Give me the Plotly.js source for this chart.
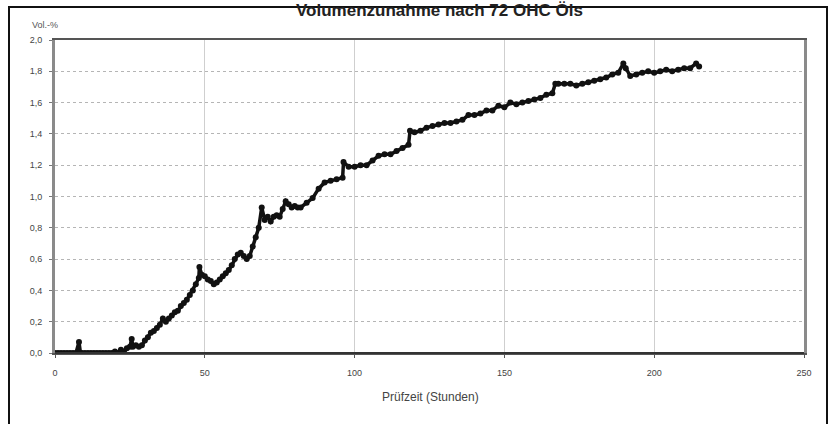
<!DOCTYPE html>
<html>
<head>
<meta charset="utf-8">
<script src="https://cdn.plot.ly/plotly-3.0.1.min.js"></script>
<style>html,body{margin:0;padding:0;background:#fff;}#chart{width:829px;height:424px;}</style>
</head>
<body>
<div id="chart"></div>
<script>
// Prüfzeit (Stunden)
const hours = [0,1,2,3,4,5,6,7,8,8.5,9,10,11,12,13,14,15,16,17,18,19,20,21,22,23,24,25,25.6,26,27,28,29,30,31,32,33,34,35,36,37,38,39,40,41,42,43,44,45,46,47,48,48.2,49,50,51,52,53,54,55,56,57,58,59,60,61,62,63,64,65,66,67,68,69,70,71,72,73,74,75,76,77,78,79,80,81,82,84,86,88,90,92,94,96,96.3,98,100,102,104,106,108,110,112,114,116,118,118.5,120,122,124,126,128,130,132,134,136,138,140,142,144,146,148,150,152,154,156,158,160,162,164,166,167,168,170,172,174,176,178,180,182,184,186,188,189.7,190.5,192,194,196,198,200,202,204,206,208,210,212,214,215];
// Volumenzunahme (Vol.-%)
const volume = [0,0,0,0,0,0,0,0,0.07,0,0,0,0,0,0,0,0,0,0,0,0,0.01,0,0.02,0.01,0.03,0.04,0.09,0.04,0.05,0.04,0.05,0.08,0.1,0.13,0.14,0.16,0.18,0.22,0.2,0.22,0.24,0.26,0.27,0.3,0.32,0.34,0.37,0.4,0.44,0.48,0.55,0.5,0.49,0.47,0.46,0.44,0.45,0.47,0.49,0.51,0.53,0.56,0.6,0.63,0.64,0.62,0.6,0.62,0.68,0.74,0.8,0.93,0.85,0.87,0.84,0.87,0.88,0.87,0.92,0.97,0.95,0.93,0.94,0.93,0.93,0.96,0.99,1.05,1.09,1.1,1.11,1.12,1.22,1.19,1.19,1.2,1.2,1.23,1.26,1.27,1.27,1.29,1.31,1.33,1.42,1.41,1.42,1.44,1.45,1.46,1.47,1.47,1.48,1.49,1.52,1.52,1.53,1.55,1.55,1.58,1.57,1.6,1.59,1.6,1.61,1.62,1.63,1.65,1.66,1.72,1.72,1.72,1.72,1.71,1.72,1.73,1.74,1.75,1.76,1.78,1.79,1.85,1.82,1.77,1.78,1.79,1.8,1.79,1.8,1.81,1.8,1.81,1.82,1.82,1.85,1.83];

const xTicks = [0,50,100,150,200,250];
const yTicks = [0,0.2,0.4,0.6,0.8,1.0,1.2,1.4,1.6,1.8,2.0];
const titleText = "Volumenzunahme nach 72 OHC Öls";
const xTitle = "Prüfzeit (Stunden)";
const yTitle = "Vol.-%";

const trace = {
  x: hours, y: volume, type: 'scatter', mode: 'lines+markers',
  line: {color: '#111', width: 3.5},
  marker: {color: '#111', size: 6},
  showlegend: false, hoverinfo: 'none'
};

const W = 829, H = 424, L = 55, R = 804, T = 40, B = 353;
const px = v => (v - L) / (R - L);
const py = v => (B - v) / (B - T);

const layout = {
  width: W, height: H,
  margin: {l: L, r: W - R, t: T, b: H - B, pad: 0},
  paper_bgcolor: '#fff', plot_bgcolor: '#fff',
  separators: ',.',
  font: {family: 'Liberation Sans, Arial, sans-serif', color: '#444'},
  xaxis: {
    range: [0, 250], tickvals: xTicks, ticks: 'outside', ticklen: 3, tickcolor: '#555',
    showline: true, linecolor: '#555', linewidth: 2, mirror: true,
    showgrid: true, gridcolor: '#cfcfcf', gridwidth: 1,
    zeroline: false, tickfont: {size: 9, color: '#444'}, ticklabelstandoff: 7
  },
  yaxis: {
    range: [0, 2.0], tickvals: yTicks, tickformat: '.1f', ticks: 'outside', ticklen: 3, tickcolor: '#777',
    showline: true, linecolor: '#8a8a8a', linewidth: 3, mirror: true,
    showgrid: true, gridcolor: '#b5b5b5', gridwidth: 1, griddash: 'dot',
    zeroline: false, tickfont: {size: 9, color: '#444'}, ticklabelstandoff: 5
  },
  shapes: [
    {type: 'rect', xref: 'paper', yref: 'paper', x0: px(9), x1: px(827), y0: py(440), y1: py(7),
     line: {color: '#111', width: 2}, fillcolor: 'rgba(0,0,0,0)', layer: 'below'},
    {type: 'line', xref: 'paper', yref: 'paper', x0: 0, x1: 1, y0: 0, y1: 0,
     line: {color: '#333', width: 2}}
  ],
  annotations: [
    {text: '<b>' + titleText + '</b>', xref: 'paper', yref: 'paper', x: px(440), y: py(0),
     xanchor: 'center', yanchor: 'top', borderpad: 0, showarrow: false, font: {size: 17, color: '#222'}},
    {text: yTitle, xref: 'paper', yref: 'paper', x: px(30), y: py(25),
     xanchor: 'left', yanchor: 'middle', showarrow: false, font: {size: 9, color: '#555'}},
    {text: xTitle, xref: 'paper', yref: 'paper', x: px(430), y: py(397),
     xanchor: 'center', yanchor: 'middle', showarrow: false, font: {size: 12, color: '#444'}}
  ]
};

Plotly.newPlot('chart', [trace], layout, {staticPlot: true, displayModeBar: false});
</script>
</body>
</html>
